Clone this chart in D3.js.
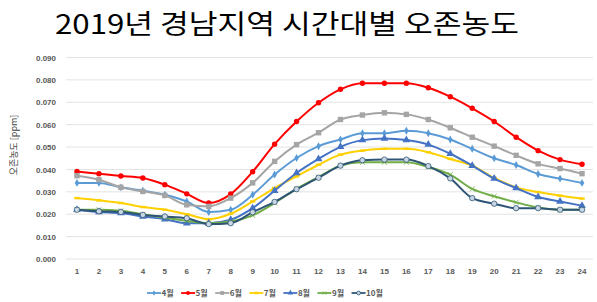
<!DOCTYPE html>
<html><head><meta charset="utf-8">
<script src="https://cdn.jsdelivr.net/npm/d3@7"></script>
<style>body{margin:0;background:#fff}svg{display:block}</style>
</head><body>
<svg id="c" width="597" height="302"></svg>
<script>
const hours = d3.range(1, 25).map(String);
const yTicks = [0, 0.01, 0.02, 0.03, 0.04, 0.05, 0.06, 0.07, 0.08, 0.09];
const seriesNames = ["4월", "5월", "6월", "7월", "8월", "9월", "10월"];
const apr = [0.034,0.034,0.032,0.0305,0.0287,0.0257,0.021,0.022,0.0287,0.0377,0.0451,0.0504,0.0534,0.0562,0.0562,0.0573,0.0562,0.0534,0.0492,0.045,0.042,0.038,0.0359,0.034];
const may = [0.0391,0.0381,0.0371,0.0362,0.0332,0.0291,0.025,0.029,0.039,0.0513,0.0614,0.0698,0.0758,0.0785,0.0785,0.0785,0.0765,0.0725,0.0673,0.0614,0.0544,0.0484,0.0444,0.0423];
const jun = [0.0372,0.0354,0.032,0.0302,0.0284,0.0242,0.0235,0.0272,0.034,0.0436,0.0511,0.0564,0.0623,0.0643,0.0653,0.0646,0.0623,0.0586,0.0544,0.0504,0.0463,0.0425,0.0404,0.0381];
const jul = [0.0272,0.0262,0.025,0.0232,0.022,0.020,0.0178,0.0202,0.0257,0.0317,0.0369,0.0421,0.0466,0.0484,0.0492,0.0492,0.0477,0.0447,0.0417,0.0362,0.032,0.0299,0.0283,0.027];
const aug = [0.022,0.021,0.0205,0.019,0.0178,0.016,0.016,0.0175,0.0227,0.0305,0.0384,0.0447,0.0501,0.0531,0.0538,0.0531,0.0511,0.047,0.0417,0.0359,0.0317,0.0277,0.0257,0.0238];
const sep = [0.022,0.022,0.0215,0.020,0.0185,0.017,0.016,0.0167,0.0195,0.025,0.0313,0.0366,0.0417,0.0432,0.0432,0.0432,0.0411,0.0377,0.0313,0.028,0.0253,0.023,0.022,0.022];
const oct = [0.022,0.0213,0.021,0.0197,0.019,0.0182,0.0156,0.016,0.0209,0.0255,0.0312,0.0363,0.0417,0.0441,0.0444,0.0444,0.0415,0.036,0.0272,0.0247,0.0227,0.0227,0.022,0.022];
const seriesValues = [apr, may, jun, jul, aug, sep, oct];
const colors = ["#5B9BD5", "#FF0000", "#A5A5A5", "#FFD000", "#4472C4", "#70AD47", "#2E5575"];
const markers = ["diamond", "circle", "square", "dash", "triangle", "cross", "ocircle"];

const svg = d3.select("#c");
const x = d3.scaleBand().domain(hours).range([66, 593]).padding(0);
const y = d3.scaleLinear().domain([0, 0.09]).range([259, 57.5]);
const cx = h => x(h) + x.bandwidth() / 2;

// title
svg.append("text").attr("x", 287).attr("y", 34).attr("text-anchor", "middle")
  .attr("font-family", "'Noto Sans CJK KR', sans-serif").attr("font-size", 27)
  .attr("textLength", 464).attr("lengthAdjust", "spacingAndGlyphs")
  .attr("fill", "#000").text("2019년 경남지역 시간대별 오존농도");

// gridlines
svg.append("g").selectAll("line").data(yTicks).join("line")
  .attr("x1", 66).attr("x2", 593).attr("y1", d => y(d)).attr("y2", d => y(d))
  .attr("stroke", "#E3E3E3").attr("stroke-width", 1);

// y axis
const yAxis = svg.append("g").attr("transform", "translate(56,0)")
  .call(d3.axisLeft(y).tickValues(yTicks).tickFormat(d3.format(".3f")).tickSize(0).tickPadding(0));
yAxis.select(".domain").remove();
yAxis.selectAll("text").attr("font-family", "Arial, 'Liberation Sans', sans-serif")
  .attr("font-size", 8).attr("font-weight", "bold").attr("fill", "#595959");

// x axis
const xAxis = svg.append("g").attr("transform", "translate(0,268)")
  .call(d3.axisBottom(x).tickSize(0).tickPadding(0));
xAxis.select(".domain").remove();
xAxis.selectAll("text").attr("font-family", "Arial, 'Liberation Sans', sans-serif")
  .attr("font-size", 8).attr("font-weight", "bold").attr("fill", "#595959");

// y title
svg.append("text").attr("transform", "translate(17,145) rotate(-90)").attr("text-anchor", "middle")
  .attr("font-family", "'Noto Sans CJK KR', sans-serif").attr("font-size", 9).attr("fill", "#404040")
  .text("오존농도 [ppm]");

function drawMarker(g, type, color, px, py, s) {
  if (type === "circle") g.append("circle").attr("cx", px).attr("cy", py).attr("r", s*0.6).attr("fill", color);
  else if (type === "ocircle") g.append("circle").attr("cx", px).attr("cy", py).attr("r", s*0.6).attr("fill", "#C9D6E3").attr("stroke", color).attr("stroke-width", 0.8);
  else if (type === "square") g.append("rect").attr("x", px - s*0.6).attr("y", py - s*0.6).attr("width", s*1.2).attr("height", s*1.2).attr("fill", color);
  else if (type === "triangle") g.append("path").attr("d", d3.symbol(d3.symbolTriangle, s*s*1.3)()).attr("transform", `translate(${px},${py})`).attr("fill", color);
  else if (type === "diamond") g.append("path").attr("d", d3.symbol(d3.symbolDiamond, s*s*0.9)()).attr("transform", `translate(${px},${py})`).attr("fill", color);
  else if (type === "cross") g.append("path").attr("d", d3.symbol(d3.symbolX, s*s*0.9)()).attr("transform", `translate(${px},${py})`).attr("stroke", color).attr("stroke-width", 0.8).attr("fill", "none");
  else if (type === "dash") g.append("rect").attr("x", px - s*0.6).attr("y", py - 1.2).attr("width", s*1.2).attr("height", 2.4).attr("fill", color);
}

const line = d3.line().x((d, i) => cx(hours[i])).y(d => y(d)).curve(d3.curveMonotoneX);
seriesValues.forEach((vals, k) => {
  const g = svg.append("g");
  g.append("path").datum(vals).attr("d", line).attr("fill", "none")
    .attr("stroke", colors[k]).attr("stroke-width", 2);
  vals.forEach((v, i) => drawMarker(g, markers[k], colors[k], cx(hours[i]), y(v), 4.5));
});

// legend
const lg = svg.append("g");
let lx = 147;
seriesNames.forEach((n, k) => {
  lg.append("line").attr("x1", lx).attr("x2", lx + 14).attr("y1", 293).attr("y2", 293)
    .attr("stroke", colors[k]).attr("stroke-width", 1.8);
  drawMarker(lg, markers[k], colors[k], lx + 7, 293, 3.2);
  const t = lg.append("text").attr("x", lx + 14.5).attr("y", 296)
    .attr("font-family", "'Noto Sans CJK KR', sans-serif").attr("font-size", 8).attr("font-weight", "bold")
    .attr("fill", "#595959").text(n);
  lx += 14.5 + t.node().getComputedTextLength() + 7.5;
});
</script>
</body></html>
